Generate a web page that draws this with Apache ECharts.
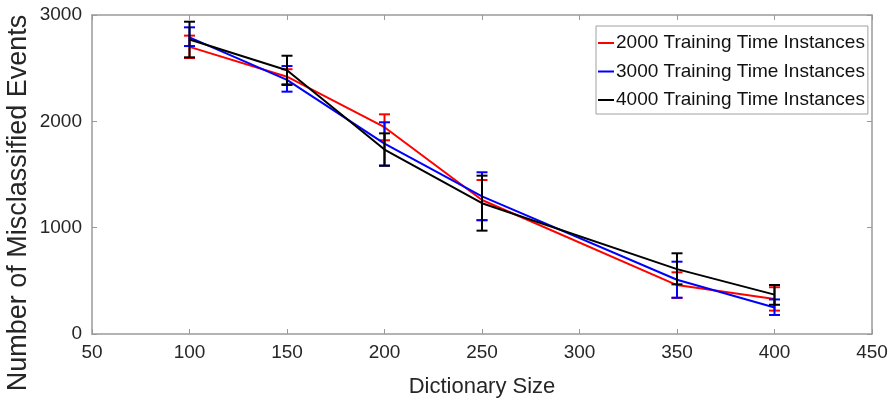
<!DOCTYPE html>
<html>
<head>
<meta charset="utf-8">
<script src="https://cdn.jsdelivr.net/npm/echarts@6/dist/echarts.min.js"></script>
<style>html,body{margin:0;padding:0;background:#fff}#c{width:892px;height:406px}</style>
</head>
<body>
<div id="c"></div>
<script>
var xValues = [100, 150, 200, 250, 350, 400];
var xTicks = [50, 100, 150, 200, 250, 300, 350, 400, 450];
var yTicks = [0, 1000, 2000, 3000];
var seriesNames = ['2000 Training Time Instances', '3000 Training Time Instances', '4000 Training Time Instances'];

var redMean = [2700, 2420, 1945, 1260, 460, 330];
var redLow  = [2595, 2350, 1822, 1072, 340, 220];
var redHigh = [2806, 2490, 2066, 1448, 580, 440];

var blueMean = [2790, 2390, 1790, 1295, 510, 250];
var blueLow  = [2708, 2279, 1583, 1069, 341, 179];
var blueHigh = [2884, 2520, 1991, 1521, 680, 325];

var blackMean = [2770, 2480, 1735, 1230, 610, 370];
var blackLow  = [2602, 2342, 1583, 972, 467, 275];
var blackHigh = [2937, 2617, 1887, 1489, 759, 461];

var colors = ['#ff0000', '#0000ff', '#000000'];
var means = [redMean, blueMean, blackMean];
var lows = [redLow, blueLow, blackLow];
var highs = [redHigh, blueHigh, blackHigh];

var font = 'Liberation Sans, Arial, sans-serif';

function errRender(color) {
  return function (params, api) {
    var x = api.value(0);
    var lo = api.coord([x, api.value(1)]);
    var hi = api.coord([x, api.value(2)]);
    var w = 5.5;
    var st = { stroke: color, lineWidth: 2 };
    return {
      type: 'group',
      children: [
        { type: 'line', shape: { x1: lo[0], y1: lo[1], x2: hi[0], y2: hi[1] }, style: st },
        { type: 'line', shape: { x1: lo[0] - w, y1: lo[1], x2: lo[0] + w, y2: lo[1] }, style: st },
        { type: 'line', shape: { x1: hi[0] - w, y1: hi[1], x2: hi[0] + w, y2: hi[1] }, style: st }
      ]
    };
  };
}

var series = [];
for (var s = 0; s < 3; s++) {
  var lineData = [], errData = [];
  for (var i = 0; i < xValues.length; i++) {
    lineData.push([xValues[i], means[s][i]]);
    errData.push([xValues[i], lows[s][i], highs[s][i]]);
  }
  series.push({
    name: seriesNames[s], type: 'line', data: lineData, showSymbol: false,
    lineStyle: { color: colors[s], width: 2 }, itemStyle: { color: colors[s] }, z: 2 + s * 2
  });
  series.push({
    name: seriesNames[s], type: 'custom', data: errData, renderItem: errRender(colors[s]),
    encode: { x: 0, y: [1, 2] }, z: 3 + s * 2, silent: true
  });
}

var axisColor = '#9a9a9a';
var labelColor = '#262626';
var chart = echarts.init(document.getElementById('c'), null, { renderer: 'canvas' });
chart.setOption({
  animation: false,
  backgroundColor: '#ffffff',
  grid: { left: 92, right: 20, top: 15, bottom: 72, show: false, outerBoundsMode: 'none', containLabel: false },
  legend: {
    orient: 'vertical', left: 596, top: 26,
    data: seriesNames,
    icon: 'rect', itemWidth: 16, itemHeight: 2, itemGap: 6.5,
    padding: [6, 3, 3, 2],
    backgroundColor: '#ffffff', borderColor: '#a0a0a0', borderWidth: 1,
    textStyle: { fontFamily: font, fontSize: 19, lineHeight: 22, color: '#111', padding: [0, 0, 0, -3] },
    selectedMode: false
  },
  graphic: [{
    type: 'text', left: 5, top: 'middle', rotation: Math.PI / 2,
    x: 18, y: 196, silent: true,
    style: { text: 'Number of Misclassified Events', fontFamily: font, fontSize: 27, fill: labelColor, align: 'center', verticalAlign: 'middle' }
  }],
  xAxis: [{
    type: 'value', min: 50, max: 450, interval: 50,
    name: 'Dictionary Size', nameLocation: 'middle', nameGap: 42,
    nameTextStyle: { fontFamily: font, fontSize: 22, color: labelColor },
    axisLine: { show: true, lineStyle: { color: axisColor, width: 1.5 } },
    axisTick: { show: true, inside: true, length: 5, lineStyle: { color: axisColor } },
    axisLabel: { fontFamily: font, fontSize: 19, color: labelColor, margin: 9 },
    splitLine: { show: false }
  }, {
    type: 'value', position: 'top', min: 50, max: 450, interval: 50,
    axisLine: { show: true, onZero: false, lineStyle: { color: axisColor, width: 1.5 } },
    axisTick: { show: true, inside: true, length: 5, lineStyle: { color: axisColor } },
    axisLabel: { show: false }, splitLine: { show: false }
  }],
  yAxis: [{
    type: 'value', min: 0, max: 3000, interval: 1000,
    axisLine: { show: true, lineStyle: { color: axisColor, width: 1.5 } },
    axisTick: { show: true, inside: true, length: 5, lineStyle: { color: axisColor } },
    axisLabel: { fontFamily: font, fontSize: 19, color: labelColor, margin: 10, formatter: function (v) { return String(v); } },
    splitLine: { show: false }
  }, {
    type: 'value', position: 'right', min: 0, max: 3000, interval: 1000,
    axisLine: { show: true, onZero: false, lineStyle: { color: axisColor, width: 1.5 } },
    axisTick: { show: true, inside: true, length: 5, lineStyle: { color: axisColor } },
    axisLabel: { show: false }, splitLine: { show: false }
  }],
  series: series
});
</script>
</body>
</html>
